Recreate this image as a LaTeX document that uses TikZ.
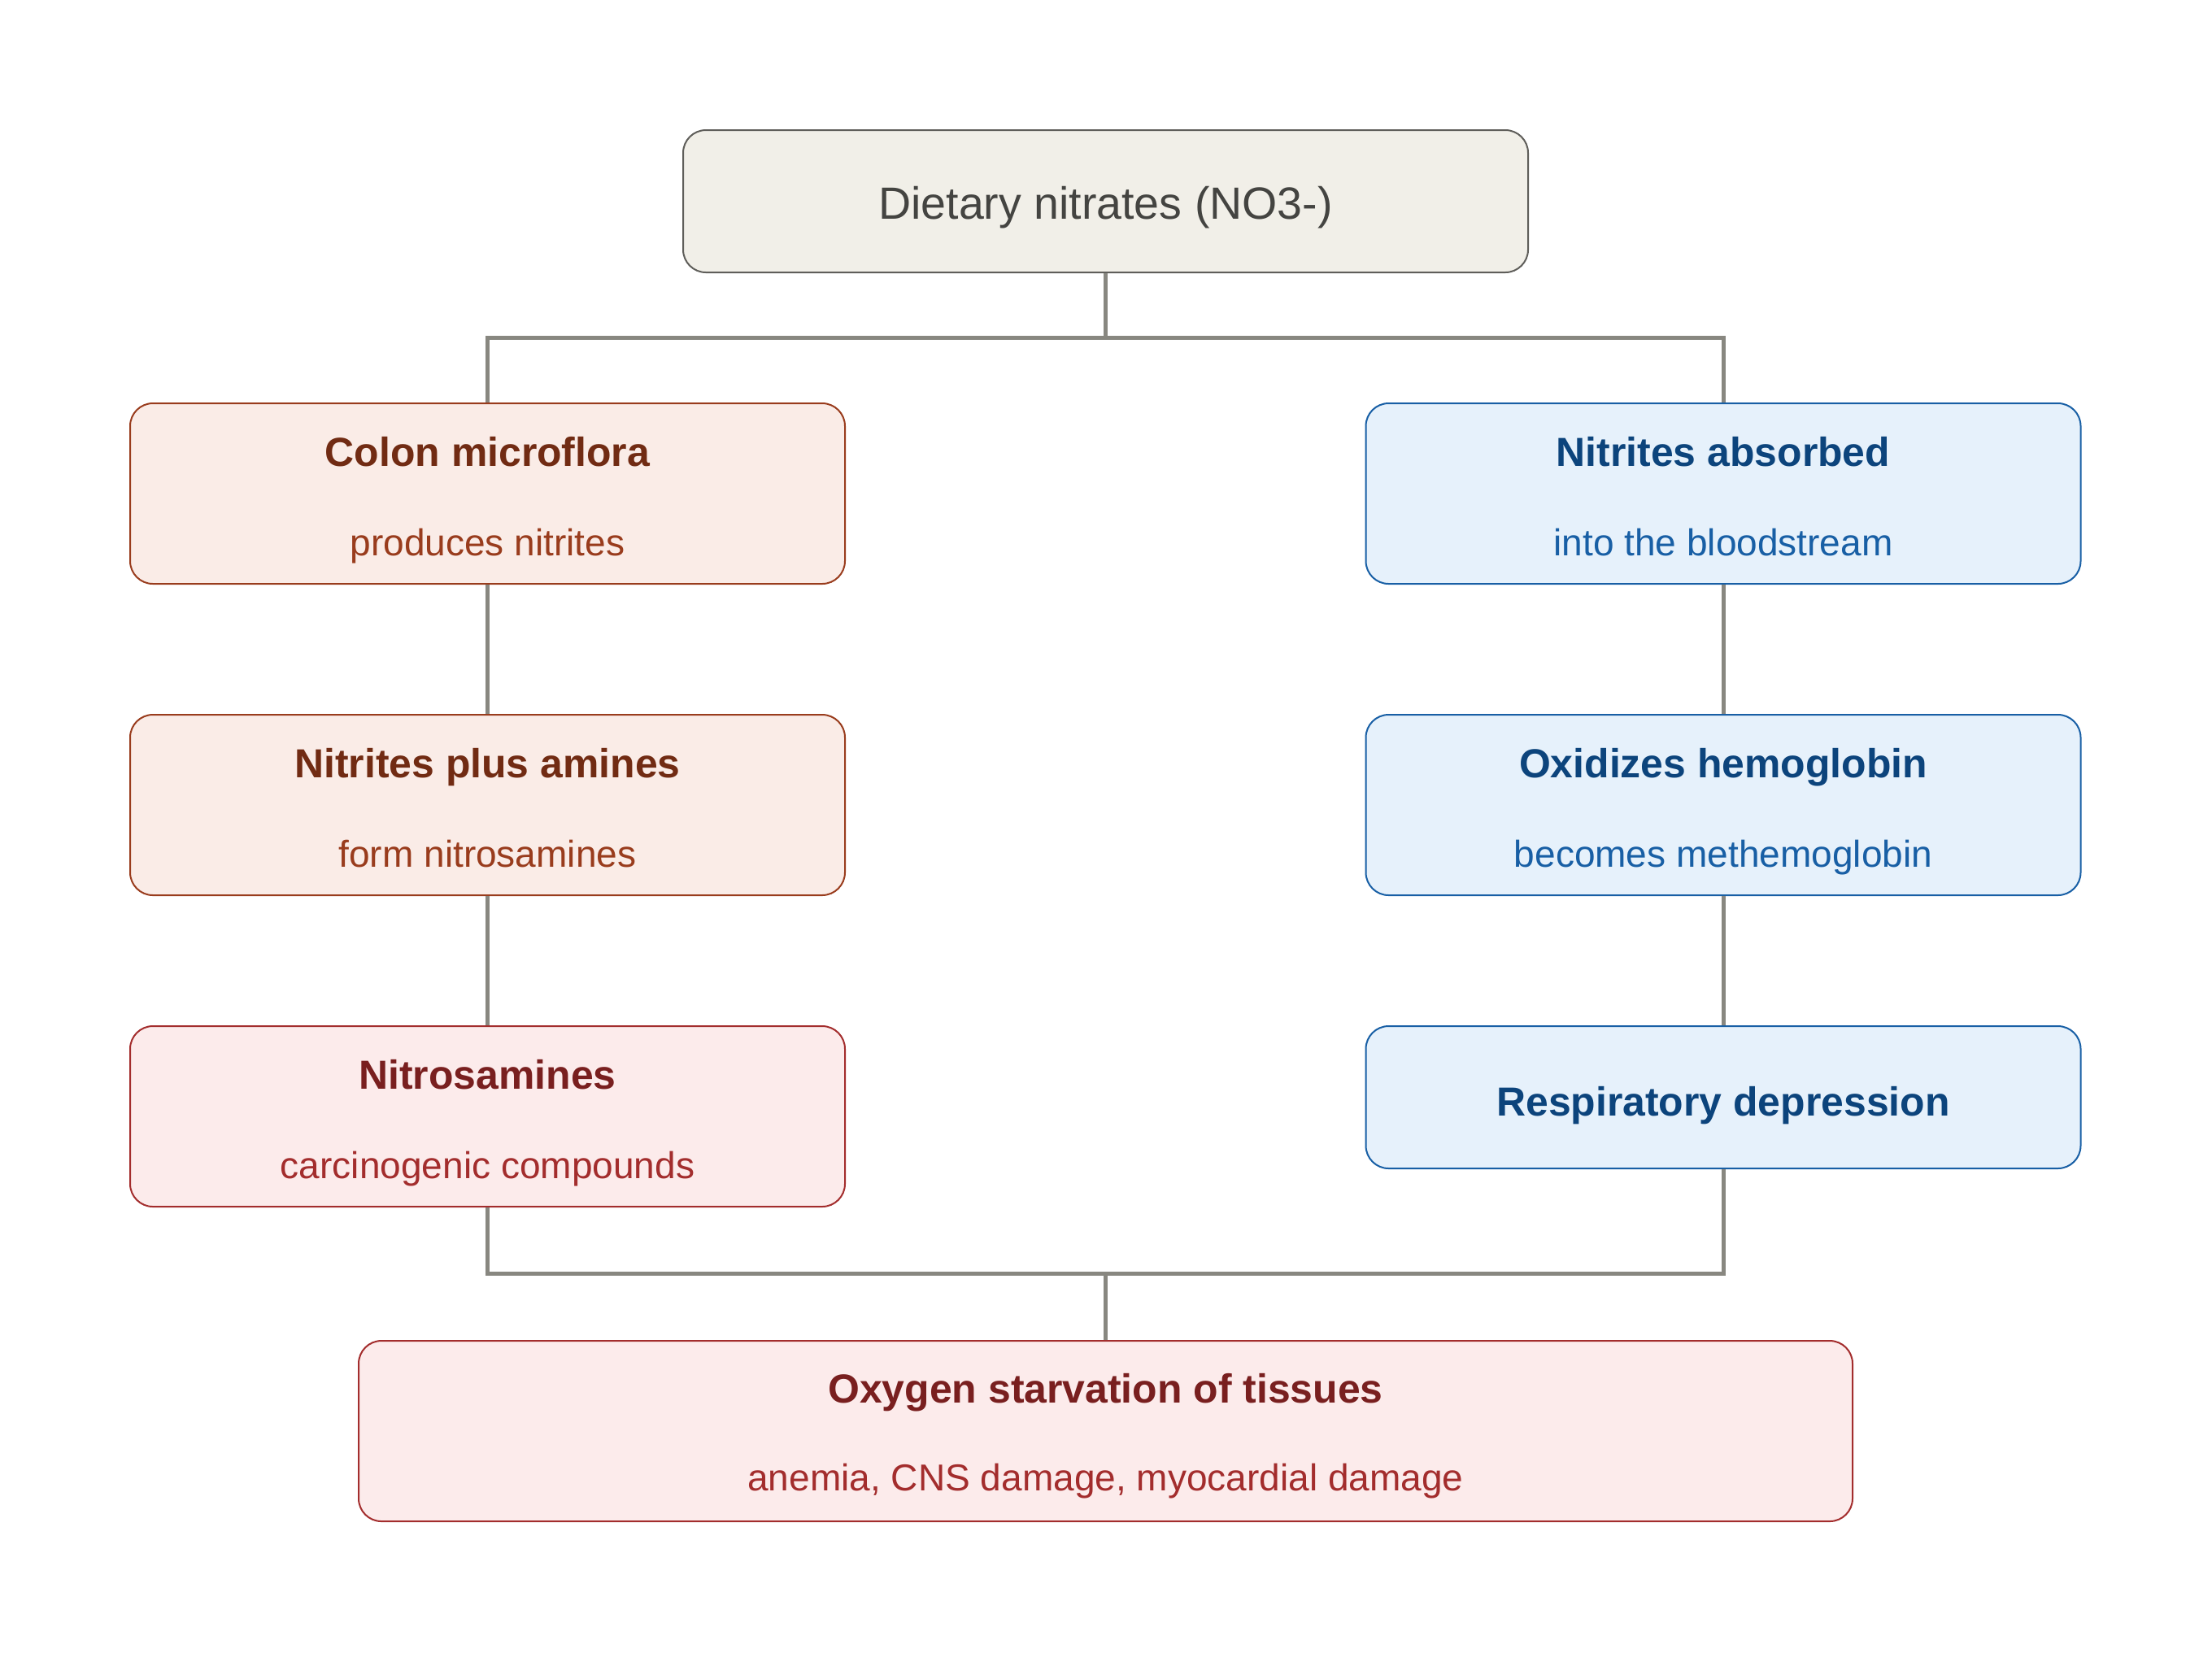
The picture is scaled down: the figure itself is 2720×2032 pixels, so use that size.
\documentclass[tikz,border=0pt]{standalone}
\usepackage{fontspec}
\setmainfont{Liberation Sans}
\usetikzlibrary{positioning}

\definecolor{topfill}{HTML}{F1EFE8}
\definecolor{topdraw}{HTML}{5F5E5A}
\definecolor{toptext}{HTML}{444441}
\definecolor{coralfill}{HTML}{FAECE7}
\definecolor{coraldraw}{HTML}{993C1D}
\definecolor{coraltitle}{HTML}{712B13}
\definecolor{redfill}{HTML}{FCEBEB}
\definecolor{reddraw}{HTML}{A32D2D}
\definecolor{redtitle}{HTML}{791F1F}
\definecolor{bluefill}{HTML}{E6F1FB}
\definecolor{bluedraw}{HTML}{185FA5}
\definecolor{bluetitle}{HTML}{0C447C}
\definecolor{linegray}{HTML}{888780}

\tikzset{
  box/.style={draw, rounded corners=2.8mm, line width=0.2mm, inner sep=0pt,
    minimum width=87.9mm, minimum height=22.2mm},
  topbox/.style={box, fill=topfill, draw=topdraw, minimum width=103.9mm, minimum height=17.5mm},
  coralbox/.style={box, fill=coralfill, draw=coraldraw},
  redbox/.style={box, fill=redfill, draw=reddraw},
  bluebox/.style={box, fill=bluefill, draw=bluedraw},
  ttl/.style={anchor=base, font=\fontsize{14.2}{17}\selectfont\bfseries},
  sub/.style={anchor=base, font=\fontsize{13.1}{16}\selectfont},
  link/.style={draw=linegray, line width=0.5mm},
}

\begin{document}
\begin{tikzpicture}[x=0.1mm, y=-0.1mm]
  \useasboundingbox (0,0) rectangle (2720,2032);

  % top
  \node[topbox] (diet) at (1359.5,247.5) {};
  \node[anchor=base, text=toptext, font=\fontsize{15.8}{19}\selectfont] (dietT)
    at ([yshift=-2.2mm]diet.center) {Dietary nitrates (NO3-)};

  % left column
  \node[coralbox] (colon) at (599.5,607) {};
  \node[coralbox, below=15.9mm of colon] (amines) {};
  \node[redbox, below=15.9mm of amines] (nitros) {};
  \node[ttl, text=coraltitle] (colonT) at ([yshift=3.4mm]colon.center) {Colon microflora};
  \node[sub, text=coraldraw] (colonS) at ([yshift=-7.6mm]colon.center) {produces nitrites};
  \node[ttl, text=coraltitle] (aminesT) at ([yshift=3.4mm]amines.center) {Nitrites plus amines};
  \node[sub, text=coraldraw] (aminesS) at ([yshift=-7.6mm]amines.center) {form nitrosamines};
  \node[ttl, text=redtitle] (nitrosT) at ([yshift=3.4mm]nitros.center) {Nitrosamines};
  \node[sub, text=reddraw] (nitrosS) at ([yshift=-7.6mm]nitros.center) {carcinogenic compounds};

  % right column
  \node[bluebox] (absorb) at (2119,607) {};
  \node[bluebox, below=15.9mm of absorb] (oxid) {};
  \node[bluebox, minimum height=17.5mm, below=15.9mm of oxid] (resp) {};
  \node[ttl, text=bluetitle] (absorbT) at ([yshift=3.4mm]absorb.center) {Nitrites absorbed};
  \node[sub, text=bluedraw] (absorbS) at ([yshift=-7.6mm]absorb.center) {into the bloodstream};
  \node[ttl, text=bluetitle] (oxidT) at ([yshift=3.4mm]oxid.center) {Oxidizes hemoglobin};
  \node[sub, text=bluedraw] (oxidS) at ([yshift=-7.6mm]oxid.center) {becomes methemoglobin};
  \node[ttl, text=bluetitle] (respT) at ([yshift=-2.3mm]resp.center) {Respiratory depression};

  % bottom
  \node[redbox, minimum width=183.7mm] (starv) at (1359.5,1760) {};
  \node[ttl, text=redtitle] (starvT) at ([yshift=3.5mm]starv.center) {Oxygen starvation of tissues};
  \node[sub, text=reddraw] (starvS) at ([yshift=-7.3mm]starv.center) {anemia, CNS damage, myocardial damage};

  % connectors
  \coordinate (busT) at (1359.5,415);
  \coordinate (busB) at (1359.5,1566);
  \draw[link] (diet.south) -- (busT);
  \draw[link] (colon.north) -- (colon.north |- busT) -- (absorb.north |- busT) -- (absorb.north);
  \draw[link] (colon) -- (amines);
  \draw[link] (amines) -- (nitros);
  \draw[link] (absorb) -- (oxid);
  \draw[link] (oxid) -- (resp);
  \draw[link] (nitros.south) -- (nitros.south |- busB) -- (resp.south |- busB) -- (resp.south);
  \draw[link] (busB) -- (starv.north);
\end{tikzpicture}
\end{document}
